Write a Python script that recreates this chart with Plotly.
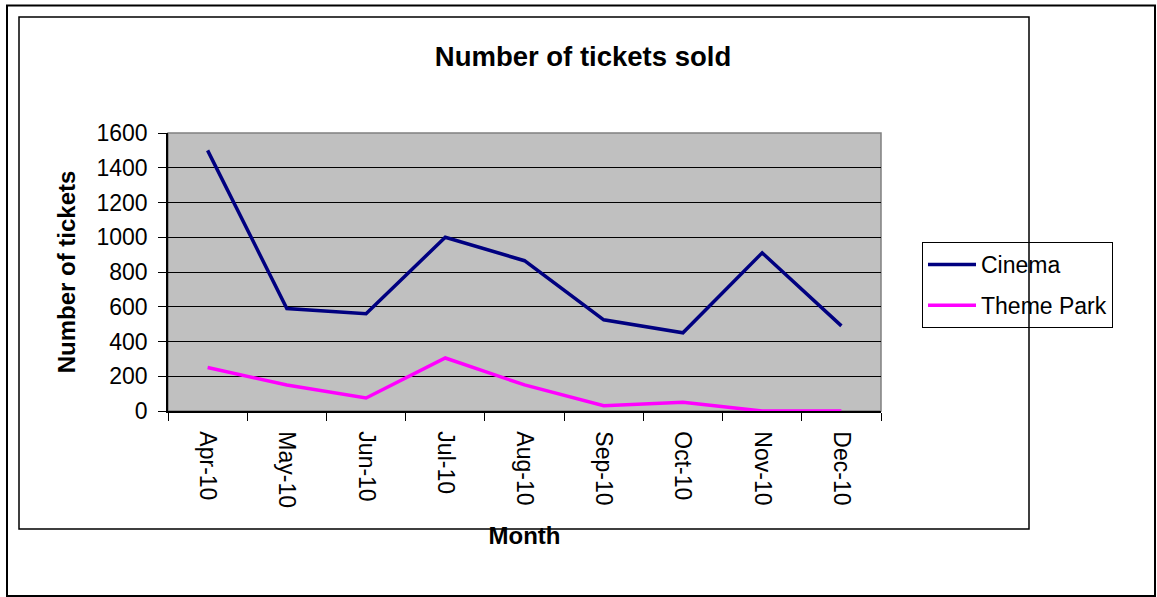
import plotly.graph_objects as go

months = ["Apr-10", "May-10", "Jun-10", "Jul-10", "Aug-10", "Sep-10", "Oct-10", "Nov-10", "Dec-10"]
cinema = [1500, 590, 560, 1000, 865, 525, 450, 910, 490]
theme_park = [250, 150, 75, 305, 150, 30, 50, 0, 0]

W, H = 1157, 597
L, R, T, B = 168, 881, 133, 411  # plot area in pixels

def px(x):
    return (x - L) / (R - L)

def py(y):
    return (B - y) / (B - T)

FONT = "Liberation Sans, Arial, sans-serif"

fig = go.Figure()
fig.add_trace(go.Scatter(x=months, y=cinema, mode="lines", name="Cinema",
                         line=dict(color="#000080", width=3.5), legendgroup="a"))
fig.add_trace(go.Scatter(x=months, y=theme_park, mode="lines", name="Theme Park",
                         line=dict(color="#FF00FF", width=3.5), legendgroup="b"))

shapes = [
    # outer border
    dict(type="rect", xref="paper", yref="paper", x0=px(7), x1=px(1155), y0=py(5.5), y1=py(596),
         line=dict(color="black", width=2), layer="below"),
    # inner chart border
    dict(type="rect", xref="paper", yref="paper", x0=px(19), x1=px(1029), y0=py(17), y1=py(529),
         line=dict(color="black", width=1.5), layer="above"),
    # plot area border
    dict(type="rect", xref="paper", yref="paper", x0=0, x1=1, y0=0, y1=1,
         line=dict(color="#808080", width=1.5), layer="below"),
]

fig.update_layout(
    width=W, height=H,
    margin=dict(l=L, r=W - R, t=T, b=H - B, pad=0),
    paper_bgcolor="white",
    plot_bgcolor="#C0C0C0",
    font=dict(family=FONT, size=23, color="black"),
    title=dict(text="<b>Number of tickets sold</b>", xref="container", x=583 / W, xanchor="center",
               yref="container", y=1 - 56 / H, yanchor="middle", font=dict(size=27.5, family=FONT)),
    showlegend=True,
    legend=dict(x=px(922), y=py(242), xanchor="left", yanchor="top",
                bordercolor="black", borderwidth=1, bgcolor="rgba(0,0,0,0)",
                font=dict(size=23, family=FONT), tracegroupgap=8, itemwidth=48),
    shapes=shapes,
    xaxis=dict(
        type="category", range=[-0.5, 8.5], tickson="boundaries",
        ticks="outside", ticklen=8, tickcolor="black", tickwidth=1,
        tickangle=90, showgrid=False, showline=True, linecolor="black", linewidth=1.5,
        tickfont=dict(size=23), ticklabelstandoff=14,
        title=dict(text="<b>Month</b>", font=dict(size=24), standoff=20),
        zeroline=False,
    ),
    yaxis=dict(
        range=[0, 1600], tickvals=[0, 200, 400, 600, 800, 1000, 1200, 1400, 1600],
        ticks="outside", ticklen=8, tickcolor="black", tickwidth=1,
        showgrid=True, gridcolor="black", gridwidth=1,
        showline=True, linecolor="black", linewidth=1.5, zeroline=False,
        tickfont=dict(size=23), ticklabelstandoff=6,
        title=dict(text="<b>Number of tickets</b>", font=dict(size=24), standoff=14),
    ),
)

fig.write_html("out.html", config={"displayModeBar": False},
               post_script="document.body.style.margin='0';document.body.style.overflow='hidden';")
